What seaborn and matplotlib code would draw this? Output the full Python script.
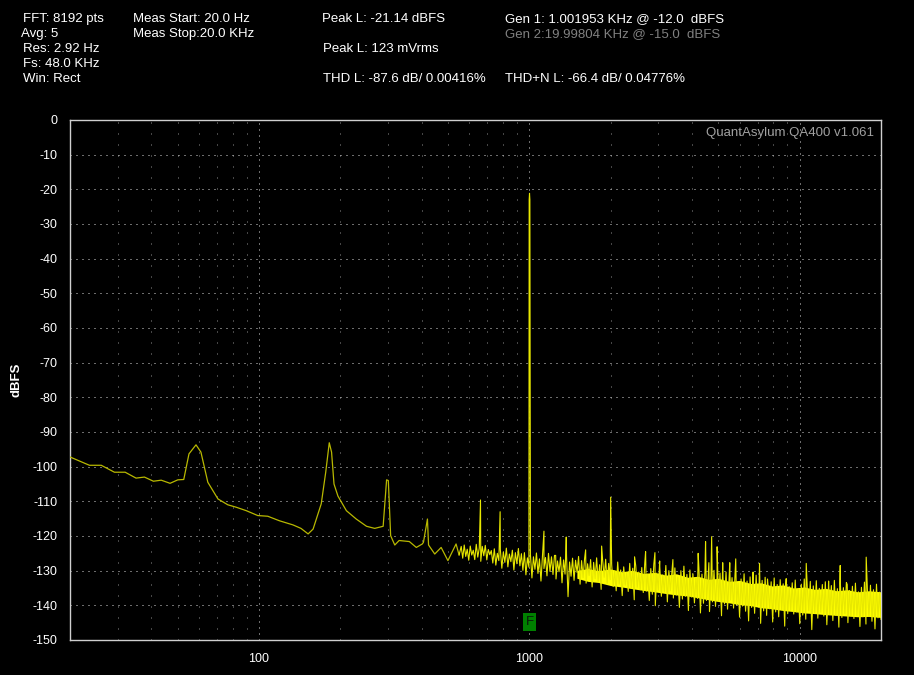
import numpy as np
import pandas as pd
import seaborn as sns
import matplotlib
matplotlib.use('Agg')
import matplotlib.pyplot as plt
from matplotlib.ticker import LogLocator, NullFormatter

# Low frequency part of the spectrum (smooth trace with hum peaks)
lf_freq = [20, 23.6, 26.1, 29.2, 32.0, 35.1, 37.7, 40.7, 43.5, 46.9, 50.1, 52.7, 55.1, 58.5, 61.0,
           64.7, 70.5, 76.7, 82.4, 89.8, 99.0, 107.8, 119.0, 133.6, 143.0, 152.0, 158.6, 170.0,
           176.6, 182.0, 185.6, 189.5, 196.0, 210.6, 229.0, 250.0, 268.0, 288.0, 296.6, 301.0,
           307.0, 318.0, 330.0, 360.0, 382.0, 402.0, 406.0, 420.0, 424.0, 447.0, 472.0, 500.0,
           536.0, 550.0]
lf_db = [-97.2, -99.6, -99.6, -101.6, -101.6, -103.3, -103.0, -104.2, -103.9, -104.8, -103.8,
         -103.7, -96.3, -93.7, -95.8, -104.5, -109.3, -111.0, -111.7, -112.7, -114.1, -114.3,
         -115.6, -116.8, -117.8, -119.4, -118.0, -110.7, -101.6, -93.1, -95.8, -105.0, -108.5,
         -112.7, -115.1, -117.2, -117.8, -117.2, -103.8, -104.0, -119.9, -122.6, -121.3, -121.6,
         -123.3, -122.3, -121.8, -115.1, -122.6, -125.2, -123.3, -127.1, -122.3, -125.5]

# Noise floor from 560 Hz up to 20 kHz, read left to right off the picture
noise_db = [
    -123.0, -126.4, -122.6, -125.9, -123.8, -127.0, -122.9, -125.5, -124.1, -126.8,
    -122.4, -126.1, -123.5, -127.3, -123.0, -125.7, -122.7, -126.9, -123.9, -125.4,
    -124.2, -127.8, -123.7, -128.4, -125.0, -127.1, -123.9, -129.3, -124.6, -127.6,
    -123.5, -128.9, -125.2, -127.4, -124.1, -129.8, -124.8, -128.0, -123.6, -128.6,
    -125.1, -129.9, -124.8, -131.2, -126.3, -129.0, -125.4, -132.1, -126.0, -129.6,
    -124.9, -130.8, -126.6, -133.0, -125.5, -129.4, -126.2, -131.5, -125.0, -130.2,
    -126.0, -131.1, -125.6, -132.4, -127.2, -130.3, -126.1, -133.5, -126.9, -131.0,
    -125.8, -137.5, -127.5, -131.6, -126.4, -132.8, -127.0, -130.5, -125.9, -133.9,
    -127.1, -132.0, -126.5, -133.6, -128.0, -131.4, -126.8, -134.7, -127.6, -132.3,
    -126.3, -133.1, -128.3, -135.4, -127.0, -131.9, -126.7, -133.7, -127.9, -132.6,
    -128.2, -134.6, -130.1, -135.8, -127.5, -133.9, -129.8, -137.2, -128.9, -134.2,
    -130.6, -136.0, -127.9, -135.1, -129.3, -138.4, -128.6, -134.8, -130.4, -135.5,
    -129.1, -136.3, -127.8, -135.9, -131.0, -138.6, -129.4, -136.8, -128.2, -140.1,
    -130.7, -135.6, -129.0, -137.4, -131.2, -136.1, -128.5, -139.0, -130.0, -135.8,
    -130.3, -137.9, -129.2, -137.0, -131.8, -140.6, -130.0, -138.2, -128.7, -137.4,
    -131.1, -141.5, -129.8, -137.6, -130.9, -139.3, -132.0, -138.0, -129.5, -142.2,
    -131.0, -139.4, -130.2, -138.6, -132.8, -141.8, -131.5, -139.0, -129.9, -140.3,
    -132.1, -138.8, -130.7, -143.0, -131.9, -139.6, -130.4, -141.1, -132.6, -138.5,
    -132.0, -140.8, -131.1, -139.9, -133.6, -143.4, -132.4, -140.2, -130.9, -141.7,
    -133.0, -144.5, -131.8, -140.6, -132.9, -142.3, -131.3, -140.0, -133.7, -145.2,
    -132.8, -141.6, -131.9, -142.9, -134.5, -141.0, -133.2, -144.8, -132.1, -141.9,
    -134.0, -143.3, -132.6, -141.2, -133.8, -146.0, -132.3, -142.4, -134.6, -141.4,
    -133.5, -142.5, -132.7, -141.9, -135.2, -145.3, -133.9, -142.8, -132.4, -144.0,
    -134.8, -141.6, -133.1, -147.0, -134.4, -142.2, -132.9, -143.7, -135.1, -142.0,
    -134.0, -143.1, -133.2, -145.6, -135.6, -142.6, -134.3, -144.4, -132.8, -142.9,
    -135.2, -146.3, -133.7, -143.5, -134.9, -142.4, -133.4, -145.0, -135.7, -143.0,
    -134.5, -143.8, -133.6, -142.9, -136.1, -146.1, -134.8, -143.3, -133.3, -145.4,
    -135.8, -143.0, -134.2, -144.6, -135.5, -146.8, -133.9, -143.6, -136.2, -144.1,
]

# Fundamental, harmonics and spurs standing above the noise floor
spk_freq = [660, 780, 999, 1001.95, 1005, 1133, 1252, 1370, 1616, 1852, 2000, 2452, 2693, 2916,
            3036, 3398, 4214, 4488, 4616, 4727, 4952, 5194, 5515, 5803, 6727, 7107, 7606, 8870,
            10580, 12800, 14130, 15000, 17630]
spk_db = [-109.6, -113.0, -23.0, -21.14, -23.0, -118.6, -125.6, -120.3, -124.0, -122.9, -108.8,
          -126.0, -124.5, -124.8, -127.2, -126.8, -125.0, -121.6, -127.7, -120.2, -123.1, -127.7,
          -127.7, -126.6, -130.4, -127.9, -132.4, -134.0, -127.9, -133.0, -128.5, -134.0, -126.1]

# Solid core of the noise band above ~1.5 kHz (upper and lower edge)
band_freq = [1500, 1650, 1800, 2000, 2200, 2400, 2650, 2900, 3200, 3500, 3850, 4200, 4600, 5000,
             5500, 6000, 6600, 7200, 7900, 8700, 9500, 10400, 11400, 12500, 13700, 15000, 16400,
             18000, 20000]
band_top = [-129.9, -129.4, -130.0, -129.5, -130.3, -129.9, -130.8, -130.5, -131.3, -130.9, -131.9,
            -131.6, -132.5, -132.2, -133.1, -132.8, -133.7, -133.5, -134.4, -134.1, -135.0, -134.7,
            -135.4, -135.1, -135.8, -135.5, -136.1, -135.8, -136.1]
band_bot = [-132.2, -133.1, -133.4, -134.3, -134.7, -135.2, -135.7, -136.1, -136.6, -137.0, -137.3,
            -137.8, -138.4, -138.9, -139.3, -139.8, -140.1, -140.7, -141.0, -141.5, -141.8, -142.2,
            -142.4, -142.7, -142.9, -143.1, -143.3, -143.2, -143.5]

y_ticks = [0, -10, -20, -30, -40, -50, -60, -70, -80, -90, -100, -110, -120, -130, -140, -150]
x_ticks = [100, 1000, 10000]
x_labels = ['100', '1000', '10000']

# Header readouts
left_info = ['FFT: 8192 pts', 'Avg: 5', 'Res: 2.92 Hz', 'Fs: 48.0 KHz', 'Win: Rect']
meas_info = ['Meas Start: 20.0 Hz', 'Meas Stop:20.0 KHz']

noise_freq = np.geomspace(560, 20000, len(noise_db))
low = pd.DataFrame({'Freq_Hz': lf_freq, 'dBFS': lf_db})
high = pd.DataFrame({
    'Freq_Hz': np.concatenate([[lf_freq[-1]], noise_freq, spk_freq]),
    'dBFS': np.concatenate([[lf_db[-1]], noise_db, spk_db]),
}).sort_values('Freq_Hz')

sns.set_theme(style='dark', rc={'axes.facecolor': 'black', 'figure.facecolor': 'black',
                                'axes.unicode_minus': False})
plt.rcParams['font.family'] = ['Liberation Sans', 'DejaVu Sans']

fig = plt.figure(figsize=(9.14, 6.75), dpi=100)
ax = fig.add_axes([70 / 914, 35 / 675, 811 / 914, 520 / 675])
ax.set_xscale('log')

ax.fill_between(band_freq, band_bot, band_top, color='#ffff00', linewidth=0, zorder=2)
sns.lineplot(data=low, x='Freq_Hz', y='dBFS', ax=ax, color='#b8b800', linewidth=0.9,
             estimator=None, sort=True, zorder=3)
sns.lineplot(data=high, x='Freq_Hz', y='dBFS', ax=ax, color='#e8e800', linewidth=0.8,
             estimator=None, sort=True, zorder=3)

ax.set_xlim(20, 20000)
ax.set_ylim(-150, 0)
ax.set_yticks(y_ticks)
ax.set_xticks(x_ticks, labels=x_labels)
ax.xaxis.set_minor_locator(LogLocator(base=10, subs=np.arange(2, 10)))
ax.xaxis.set_minor_formatter(NullFormatter())
ax.tick_params(which='both', length=0, colors='white', labelsize=9, pad=9)

# Dotted grid like the analyzer screen
ax.grid(False)
ax.yaxis.grid(True, which='major', color='#d8d8d8', linestyle=(0, (1, 5)), linewidth=0.72)
ax.xaxis.grid(True, which='major', color='#d8d8d8', linestyle=(0, (1, 5)), linewidth=0.72)
ax.xaxis.grid(True, which='minor', color='#8c8c8c', linestyle=(0, (1, 10)), linewidth=0.72)
ax.set_axisbelow(True)

for sp in ax.spines.values():
    sp.set_visible(True)
    sp.set_color('#cfcfcf')
    sp.set_linewidth(1.0)

ax.set_xlabel('')
ax.set_ylabel('dBFS', color='white', fontsize=9.5, fontweight='bold')
ax.yaxis.set_label_coords(-0.058, 0.5)

ax.text(0.991, 0.9756, 'QuantAsylum QA400 v1.061', transform=ax.transAxes, ha='right',
        va='center', fontsize=9.5, color='#a0a0a0')

# "F" marker under the fundamental
ax.text(1001.95, -144.8, 'F', ha='center', va='center', fontsize=9.5, color='#0a1a0a',
        bbox=dict(boxstyle='square,pad=0.2', fc='#008000', ec='none'), zorder=5)

def header(x, y, s, color='white'):
    fig.text(x / 914, 1 - y / 675, s, ha='left', va='center', fontsize=9.5, color=color)

for i, s in enumerate(left_info):
    header(23 if i != 1 else 21, 19 + 15 * i, s)
for i, s in enumerate(meas_info):
    header(133, 19 + 15 * i, s)
header(322, 19, 'Peak L: -21.14 dBFS')
header(323, 49, 'Peak L: 123 mVrms')
header(323, 79, 'THD L: -87.6 dB/ 0.00416%')
header(505, 19, 'Gen 1: 1.001953 KHz @ -12.0  dBFS')
header(505, 34, 'Gen 2:19.99804 KHz @ -15.0  dBFS', color='#808080')
header(505, 79, 'THD+N L: -66.4 dB/ 0.04776%')

fig.savefig('out.png', dpi=100, facecolor='black')
